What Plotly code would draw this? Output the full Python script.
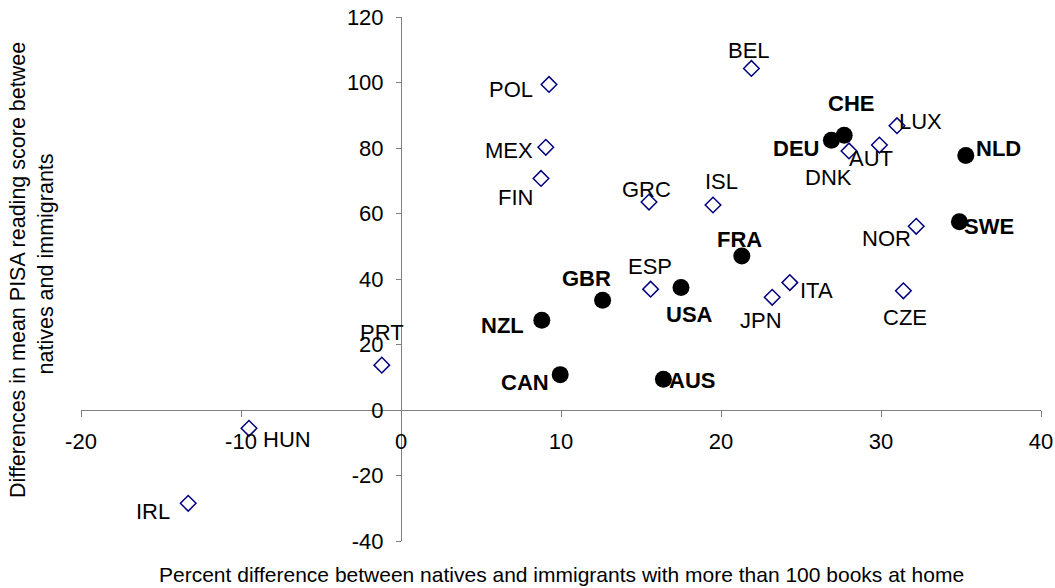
import plotly.graph_objects as go

# ---- data ----
open_countries = ["PRT", "HUN", "IRL", "POL", "MEX", "FIN", "GRC", "BEL", "DNK",
                  "ISL", "LUX", "AUT", "NOR", "ESP", "ITA", "JPN", "CZE"]
open_x = [-1.2, -9.5, -13.3, 9.25, 9.05, 8.75, 15.5, 21.9, 28.0,
          19.5, 31.0, 29.9, 32.2, 15.6, 24.3, 23.2, 31.4]
open_y = [13.7, -5.6, -28.5, 99.4, 80.2, 70.7, 63.5, 104.3, 79.1,
          62.6, 86.8, 80.9, 56.1, 36.9, 38.9, 34.4, 36.4]

solid_countries = ["CHE", "DEU", "NLD", "SWE", "USA", "GBR", "NZL", "CAN", "AUS", "FRA"]
solid_x = [27.7, 26.9, 35.3, 34.9, 17.5, 12.6, 8.8, 9.95, 16.4, 21.3]
solid_y = [83.9, 82.4, 77.7, 57.5, 37.4, 33.5, 27.4, 10.8, 9.4, 47.0]

x_ticks = [-20, -10, 0, 10, 20, 30, 40]
y_ticks = [-40, -20, 0, 20, 40, 60, 80, 100, 120]

x_title = "Percent difference between natives and immigrants with more than 100 books at home"
y_title = "Differences in mean PISA reading score between<br>natives and immigrants"

# ---- label placement (screen px offsets: dx right, dy down) ----
label_offsets = {
    "PRT": (0, -33), "HUN": (38, 11), "IRL": (-35, 8), "POL": (-38, 5),
    "MEX": (-37, 3), "FIN": (-26, 19), "GRC": (-3, -13), "BEL": (-2, -18),
    "CHE": (7, -32), "DEU": (-35, 8), "DNK": (-21, 27), "ISL": (8, -23),
    "LUX": (23, -4), "AUT": (-8, 13), "NLD": (33, -7), "SWE": (30, 5),
    "NOR": (-30, 12), "ESP": (-1, -23), "USA": (8, 27), "GBR": (-16, -22),
    "NZL": (-39, 5), "CAN": (-35, 8), "AUS": (29, 1), "FRA": (-2, -17),
    "ITA": (27, 8), "JPN": (-11, 23), "CZE": (2, 27),
}

W, H = 1055, 588
ML, MR, MT, MB = 81, 14, 17, 47
PW, PH = W - ML - MR, H - MT - MB
FONT = "Liberation Sans, Arial, sans-serif"


def px_x(px):
    return (px - ML) / PW


def px_y(py):
    return 1 - (py - MT) / PH


fig = go.Figure()
fig.add_trace(go.Scatter(
    x=open_x, y=open_y, mode="markers",
    marker=dict(symbol="diamond-open", size=12, color="#000080",
                line=dict(width=1.5, color="#000080")),
    hoverinfo="text", text=open_countries, showlegend=False, cliponaxis=False))
fig.add_trace(go.Scatter(
    x=solid_x, y=solid_y, mode="markers",
    marker=dict(symbol="circle", size=17, color="black", line=dict(width=0)),
    hoverinfo="text", text=solid_countries, showlegend=False, cliponaxis=False))

annotations = []
for names, xs, ys, bold in [(open_countries, open_x, open_y, False),
                            (solid_countries, solid_x, solid_y, True)]:
    for n, xv, yv in zip(names, xs, ys):
        dx, dy = label_offsets[n]
        annotations.append(dict(
            x=xv, y=yv, xref="x", yref="y", showarrow=False,
            text=f"<b>{n}</b>" if bold else n,
            xshift=dx, yshift=-dy, xanchor="center", yanchor="middle",
            font=dict(size=22, color="black", family=FONT)))

# axis titles
annotations.append(dict(
    x=px_x(561), y=px_y(574), xref="paper", yref="paper", showarrow=False,
    text=x_title, xanchor="center", yanchor="middle",
    font=dict(size=21, color="black", family=FONT)))
annotations.append(dict(
    x=px_x(32), y=px_y(264), xref="paper", yref="paper", showarrow=False,
    text=y_title, textangle=-90, xanchor="center", yanchor="middle",
    font=dict(size=21.5, color="black", family=FONT)))
# title box clipping (as in the original chart)
annotations.append(dict(
    x=px_x(0), y=px_y(0), xref="paper", yref="paper", showarrow=False,
    text=" ", xanchor="left", yanchor="top", width=70, height=40,
    bgcolor="white", borderpad=0))

axis_common = dict(showgrid=False, zeroline=False, showline=True, linecolor="#808080",
                   linewidth=1, ticks="outside", tickcolor="#808080",
                   anchor="free", automargin=False, domain=[0, 1],
                   tickfont=dict(size=22, color="black", family=FONT))

fig.update_layout(
    width=W, height=H,
    margin=dict(l=ML, r=MR, t=MT, b=MB, pad=0, autoexpand=False),
    paper_bgcolor="white", plot_bgcolor="white",
    font=dict(family=FONT, size=22, color="black"),
    annotations=annotations,
    xaxis=dict(range=[-20, 40], tickvals=x_ticks, ticktext=[str(v) for v in x_ticks],
               ticklen=6, position=(0 - (-40)) / (120 - (-40)),
               ticklabelstandoff=6, **axis_common),
    yaxis=dict(range=[-40, 120], tickvals=y_ticks, ticktext=[str(v) for v in y_ticks],
               ticklen=5, position=(0 - (-20)) / (40 - (-20)),
               ticklabelstandoff=8, **axis_common),
)

fig.write_html("out.html",
               config={"displayModeBar": False},
               post_script="document.body.style.margin='0';document.body.style.overflow='hidden';")
